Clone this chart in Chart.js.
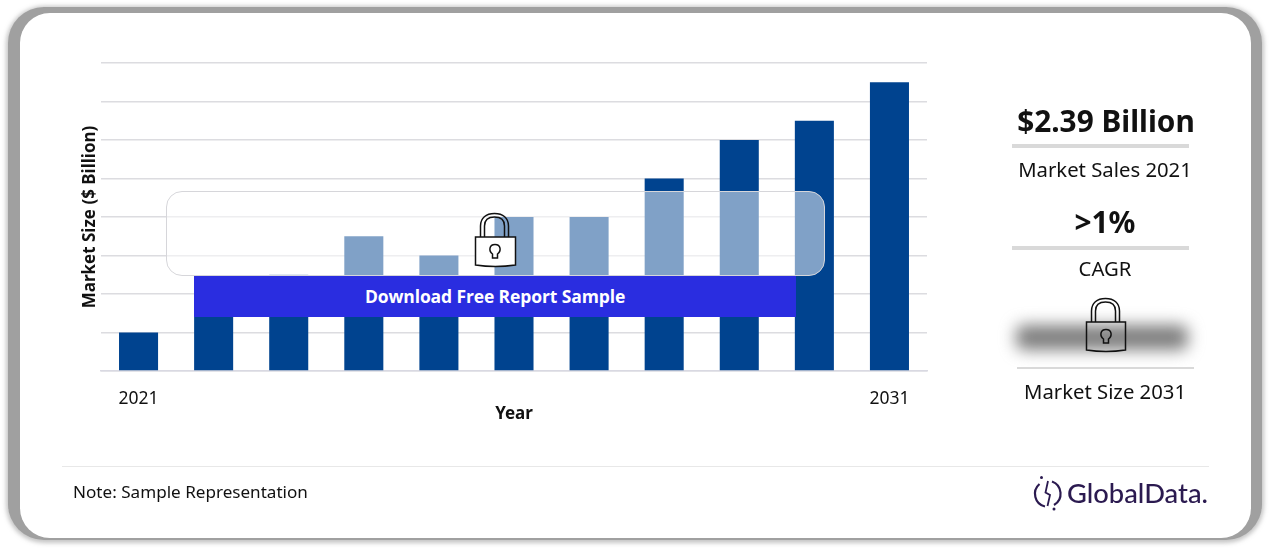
<!DOCTYPE html>
<html><head><meta charset="utf-8">
<script src="https://cdn.jsdelivr.net/npm/chart.js@4"></script>
<style>
html,body{margin:0;padding:0;background:#fff;width:1271px;height:551px;overflow:hidden;font-family:"Noto Sans",sans-serif;color:#111}
#frame{position:absolute;left:8px;top:7px;width:1254px;height:533px;border-radius:36px;background:#a0a0a0;box-shadow:0 1px 4px 2px rgba(140,140,140,.5);filter:blur(.7px)}
#card{position:absolute;left:20px;top:13px;width:1231px;height:525px;border-radius:30px;background:#fff}
#wrap{position:absolute;left:0;top:0;width:1271px;height:551px}
.abs{position:absolute}
.t{position:absolute;white-space:nowrap;text-align:center;transform:translateX(-50%)}
#glass{left:166px;top:191px;width:657px;height:83px;border:1.6px solid #d6d6da;border-radius:16px;background:rgba(255,255,255,.5)}
#banner{left:194px;top:276px;width:602px;height:41px;background:#2a2de0;color:#fff;font:700 17.5px "Open Sans",sans-serif;line-height:41px;text-align:center;letter-spacing:-.12px}
#blur{left:1016px;top:325px;width:172px;height:25px;background:#7e7e7e;filter:blur(8px);border-radius:8px}
.rule{position:absolute;background:#d9d9d9}
</style></head><body>
<div id="frame"></div><div id="card"></div>
<div id="wrap"><canvas id="c" width="1271" height="551"></canvas></div>
<div id="glass" class="abs"></div>
<div id="banner" class="abs">Download Free Report Sample</div>
<svg class="abs" style="left:472px;top:211px" width="46" height="58" viewBox="0 0 46 58" fill="none" stroke="#111" stroke-width="1.500">
<path d="M8.500 26V15C8.500 7 14 2.500 22.500 2.500S36.500 7 36.500 15V26M12.500 26V15C12.500 9.500 16 6 22.500 6S32.500 9.500 32.500 15V26"/>
<path d="M3.500 26H43.500V54Q23 57 3.500 54Z" fill="#fff"/>
<path d="M20.500 47V43C16.500 40 17 33.500 23 33.500S29.500 40 25.500 43V47Z"/>
</svg>
<div class="t" style="left:1106px;top:100px;font:700 29.800px 'Noto Sans'">$2.39 Billion</div>
<div class="rule" style="left:1012px;top:144px;width:177px;height:4px"></div>
<div class="t" style="left:1105px;top:155px;font:400 20.300px 'Noto Sans'">Market Sales 2021</div>
<div class="t" style="left:1105px;top:201px;font:700 29.800px 'Noto Sans'">&gt;1%</div>
<div class="rule" style="left:1012px;top:246px;width:177px;height:4px"></div>
<div class="t" style="left:1105px;top:254px;font:400 20.300px 'Noto Sans'">CAGR</div>
<div id="blur" class="abs"></div>
<svg class="abs" style="left:1083px;top:296px" width="46" height="58" viewBox="0 0 46 58" fill="none" stroke="#111" stroke-width="1.500">
<path d="M8.500 26V15C8.500 7 14 2.500 22.500 2.500S36.500 7 36.500 15V26M12.500 26V15C12.500 9.500 16 6 22.500 6S32.500 9.500 32.500 15V26"/>
<path d="M3.500 26H42.500V54Q23 57 3.500 54Z"/>
<path d="M20.500 47V43C16.500 40 17 33.500 23 33.500S29.500 40 25.500 43V47Z"/>
</svg>
<div class="rule" style="left:1017px;top:367px;width:177px;height:2px"></div>
<div class="t" style="left:1105px;top:377px;font:400 20.300px 'Noto Sans'">Market Size 2031</div>
<div class="rule" style="left:62px;top:466px;width:1147px;height:1px;background:#e8e8e8"></div>
<div class="abs" style="left:73px;top:480px;font:400 17.100px 'Noto Sans';white-space:nowrap">Note: Sample Representation</div>
<svg class="abs" style="left:1032px;top:474px" width="32" height="38" viewBox="0 0 32 38" fill="none" stroke="#2b1a50" stroke-width="2.200">
<path d="M7.500 10A13 13 0 0 0 13 32.500M20 7.500A13 13 0 0 1 22 31"/>
<path d="M16 7L13.500 18.500L18 21L15.500 32" stroke-width="1.800"/>
<circle cx="9.500" cy="3.500" r="1.500" fill="#2b1a50" stroke="none"/><circle cx="22" cy="35" r="1.500" fill="#2b1a50" stroke="none"/>
</svg>
<div class="abs" style="left:1067px;top:476px;font:500 27.300px Lato,sans-serif;color:#2b1a50;white-space:nowrap">GlobalData.</div>
<script>
const categories=["2021","2022","2023","2024","2025","2026","2027","2028","2029","2030","2031"];
const shownYears=["2021","2031"];
const marketSize=[1,2,2.5,3.5,3,4,4,5,6,6.5,7.5];
const axisMin=0,axisMax=8,axisStep=1;
new Chart(document.getElementById('c'),{
 type:'bar',
 data:{labels:categories,datasets:[{label:'Market Size',data:marketSize,backgroundColor:'#00438f',barPercentage:.52,categoryPercentage:1}]},
 options:{responsive:false,animation:false,
  plugins:{legend:{display:false},tooltip:{enabled:false}},
  scales:{
   x:{afterFit(s){s.height=53},grid:{display:false},border:{color:'#d9d9e2',width:1.4},
      ticks:{autoSkip:false,maxRotation:0,padding:10,color:'#111',font:{family:'Noto Sans',size:17.5},
       callback(v){const l=this.getLabelForValue(v);return shownYears.includes(l)?l:''}},
      title:{display:true,text:'Year',color:'#111',font:{family:'Noto Sans',size:17,weight:'700'},padding:{top:0,bottom:0}}},
   y:{min:axisMin,max:axisMax,afterFit(s){s.width=21},
      ticks:{stepSize:axisStep,display:false},
      grid:{color:'#dcdce0',lineWidth:1.4,drawTicks:false},border:{display:false},
      title:{display:true,text:'Market Size ($ Billion)',color:'#111',font:{family:'Noto Sans',size:17,weight:'700'},padding:{top:0,bottom:0}}}
  },
  layout:{padding:{top:63,right:344,bottom:127,left:80}}
 }
});
</script>
</body></html>
